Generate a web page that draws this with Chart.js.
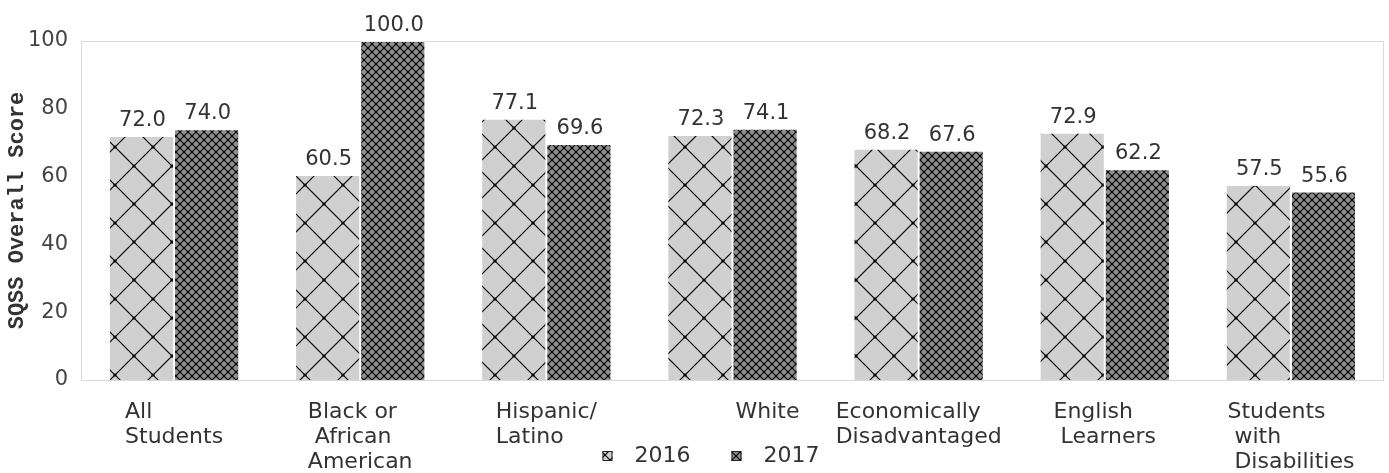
<!DOCTYPE html>
<html>
<head>
<meta charset="utf-8">
<script src="https://cdn.jsdelivr.net/npm/chart.js@4.4.1/dist/chart.umd.min.js"></script>
<style>
  html, body { margin: 0; padding: 0; background: #fff; }
  #wrap { width: 1389px; height: 473px; }
</style>
</head>
<body>
<div id="wrap"><canvas id="chart"></canvas></div>
<script>
  // data
  const categories = [
    ['All', 'Students'],
    ['Black or', ' African', 'American'],
    ['Hispanic/', 'Latino'],
    ['          White'],
    ['Economically', 'Disadvantaged'],
    ['English', ' Learners'],
    ['Students', ' with', ' Disabilities']
  ];
  const seriesNames = ['2016', '2017'];
  const scores2016 = [72.0, 60.5, 77.1, 72.3, 68.2, 72.9, 57.5];
  const scores2017 = [74.0, 100.0, 69.6, 74.1, 67.6, 62.2, 55.6];
  const yMin = 0, yMax = 100, yStep = 20;

  const FONT = 'DejaVu Sans';
  const TEXT = '#333';

  // hatch patterns
  function makeTile(size, fill, drawFn) {
    const c = document.createElement('canvas');
    c.width = size; c.height = size;
    const g = c.getContext('2d');
    g.fillStyle = fill;
    g.fillRect(0, 0, size, size);
    drawFn(g, size);
    return c;
  }
  function crossLines(g, s, lw, dot) {
    g.strokeStyle = '#000';
    g.lineWidth = lw;
    g.beginPath();
    g.moveTo(-1, -1); g.lineTo(s + 1, s + 1);
    g.moveTo(s + 1, -1); g.lineTo(-1, s + 1);
    g.stroke();
    g.fillStyle = '#000';
    [[0, 0], [s, 0], [0, s], [s, s], [s / 2, s / 2]].forEach(p => {
      g.beginPath(); g.arc(p[0], p[1], dot, 0, Math.PI * 2); g.fill();
    });
  }
  const scratch = document.createElement('canvas').getContext('2d');
  const pat2016 = scratch.createPattern(makeTile(38, '#d0d0d0', (g, s) => crossLines(g, s, 1.2, 1.6)), 'repeat');
  pat2016.setTransform(new DOMMatrix().translate(1, -5));
  const pat2017 = scratch.createPattern(makeTile(8, '#8e8e8e', (g, s) => crossLines(g, s, 1.1, 1.1)), 'repeat');
  const legend2016 = scratch.createPattern(makeTile(10, '#d0d0d0', (g, s) => crossLines(g, s, 1.2, 0.8)), 'repeat');

  const drawExtras = {
    id: 'drawExtras',
    beforeDatasetsDraw(chart) {
      const { ctx, chartArea: a } = chart;
      ctx.save();
      ctx.strokeStyle = '#d9d9d9';
      ctx.lineWidth = 1;
      ctx.strokeRect(a.left + 0.5, a.top + 0.5, a.right - a.left - 1, a.bottom - a.top);
      ctx.restore();
    },
    afterDraw(chart) {
      const { ctx, chartArea: a } = chart;
      const xs = chart.scales.x;
      ctx.save();
      ctx.font = '21px "' + FONT + '"';
      ctx.fillStyle = TEXT;

      // value labels over bars
      ctx.textAlign = 'center';
      ctx.textBaseline = 'alphabetic';
      chart.data.datasets.forEach((ds, di) => {
        chart.getDatasetMeta(di).data.forEach((bar, i) => {
          ctx.fillText(ds.data[i].toFixed(1), bar.x + 1, bar.y - 10);
        });
      });

      // category labels: left aligned lines, block centred on the category
      ctx.font = '22px "' + FONT + '"';
      ctx.textAlign = 'left';
      ctx.textBaseline = 'top';
      categories.forEach((lines, i) => {
        const cx = xs.getPixelForValue(i);
        const w = Math.max(...lines.map(l => ctx.measureText(l).width));
        lines.forEach((l, j) => ctx.fillText(l, cx - w / 2, a.bottom + 21 + j * 25));
      });

      // legend
      const fills = [legend2016, pat2017];
      const cy = 456;
      let x = chart.width / 2 - 92;
      ctx.textBaseline = 'middle';
      seriesNames.forEach((name, i) => {
        ctx.fillStyle = fills[i];
        ctx.fillRect(x, cy - 5, 10, 10);
        ctx.strokeStyle = '#222';
        ctx.lineWidth = 1;
        ctx.strokeRect(x + 0.5, cy - 4.5, 9, 9);
        ctx.fillStyle = TEXT;
        ctx.fillText(name, x + 32, cy);
        x += 129;
      });
      ctx.restore();
    }
  };

  new Chart(document.getElementById('chart'), {
    type: 'bar',
    data: {
      labels: categories,
      datasets: [
        { label: seriesNames[0], data: scores2016, backgroundColor: pat2016,
          borderColor: 'rgba(255,255,255,0.55)', borderWidth: 1 },
        { label: seriesNames[1], data: scores2017, backgroundColor: pat2017,
          borderColor: 'rgba(255,255,255,0.55)', borderWidth: 1 }
      ]
    },
    options: {
      responsive: true,
      maintainAspectRatio: false,
      animation: false,
      layout: { padding: { top: 41, right: 5, bottom: 0, left: 0 } },
      datasets: { bar: { categoryPercentage: 0.7, barPercentage: 1.0 } },
      plugins: { legend: { display: false }, tooltip: { enabled: false } },
      scales: {
        x: {
          grid: { display: false, drawTicks: false },
          border: { display: false },
          ticks: { display: false },
          afterFit(scale) { scale.height = 93; }
        },
        y: {
          min: yMin, max: yMax,
          grid: { display: false, drawTicks: false },
          border: { display: false },
          ticks: { stepSize: yStep, padding: 13, color: '#444', font: { family: FONT, size: 21 } },
          title: {
            display: true, text: 'SQSS Overall Score', color: TEXT,
            font: { family: 'Liberation Mono', size: 22, weight: 'bold' }
          },
          afterFit(scale) { scale.width = 81; }
        }
      }
    },
    plugins: [drawExtras]
  });
</script>
</body>
</html>
